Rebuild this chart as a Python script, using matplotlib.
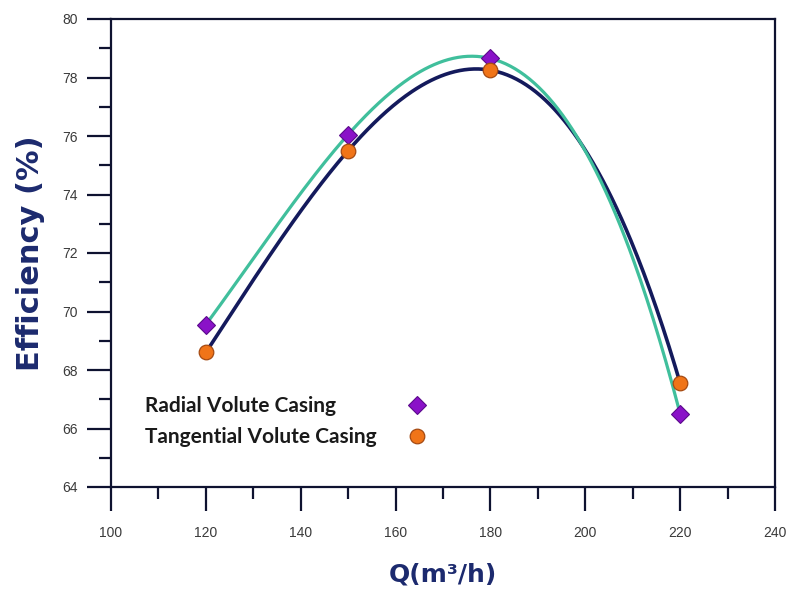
import numpy as np
import matplotlib
matplotlib.use("Agg")
import matplotlib.pyplot as plt
from matplotlib.ticker import MultipleLocator

# Data
flow = [120, 150, 180, 220]
radial_eff = [69.55, 76.05, 78.65, 66.5]
tangential_eff = [68.6, 75.5, 78.25, 67.55]
series_labels = ["Radial Volute Casing", "Tangential Volute Casing"]
x_ticks = [100, 120, 140, 160, 180, 200, 220, 240]
y_ticks = [64, 66, 68, 70, 72, 74, 76, 78, 80]

navy = "#141a5c"
teal = "#40bf9c"
label_col = "#1c2a6e"

fig = plt.figure(figsize=(7.89, 5.89), dpi=100)
ax = fig.add_axes([111/789, 1 - 487/589, (775-111)/789, (487-19)/589])

xs = np.linspace(flow[0], flow[-1], 300)
p_rad = np.polyfit(flow, radial_eff, 3)
p_tan = np.polyfit(flow, tangential_eff, 3)
ax.plot(xs, np.polyval(p_tan, xs), color=navy, lw=2.6, zorder=2, solid_capstyle='round')
ax.plot(xs, np.polyval(p_rad, xs), color=teal, lw=2.3, zorder=3, solid_capstyle='round')

ax.plot(flow, radial_eff, linestyle='none', marker='D', markersize=9,
        markerfacecolor="#8a12c8", markeredgecolor="#5b0a8c", markeredgewidth=0.8,
        label=series_labels[0], zorder=5)
ax.plot(flow, tangential_eff, linestyle='none', marker='o', markersize=10.5,
        markerfacecolor="#f07418", markeredgecolor="#a54a12", markeredgewidth=0.9,
        label=series_labels[1], zorder=5)

ax.set_xlim(100, 240)
ax.set_ylim(64, 80)
ax.set_xticks(x_ticks)
ax.set_yticks(y_ticks)
ax.xaxis.set_minor_locator(MultipleLocator(10))
ax.yaxis.set_minor_locator(MultipleLocator(1))

for s in ax.spines.values():
    s.set_linewidth(1.6)
    s.set_color("#0e1230")

ax.tick_params(which='major', direction='out', length=17, width=1.6, color="#0e1230",
               labelsize=10, labelcolor="#3a3a3a", pad=7)
ax.tick_params(which='minor', direction='out', length=8.5, width=1.6, color="#0e1230")
ax.tick_params(axis='x', which='major', pad=11)
for lab in ax.get_xticklabels() + ax.get_yticklabels():
    lab.set_fontfamily("Liberation Sans")

ax.set_xlabel("Q(m³/h)", fontsize=18, fontweight='bold', color=label_col,
              family="DejaVu Sans", labelpad=16)
ax.set_ylabel("Efficiency (%)", fontsize=22, fontweight='bold', color=label_col,
              family="DejaVu Sans", labelpad=12)

leg = ax.legend(loc='upper left', bbox_to_anchor=((145-111)/664, (487-396)/468),
                frameon=False, markerfirst=False, handlelength=1.0, handletextpad=1.0,
                labelspacing=0.55, borderpad=0.0, borderaxespad=0.0,
                prop={'family': 'Lato', 'weight': 'bold', 'size': 15})
for t in leg.get_texts():
    t.set_color("#1a1a1a")
# left-align the label texts while keeping markers in one column on the right
row_width_px = 282
for col in leg._legend_handle_box.get_children():
    for row in col.get_children():
        row.mode = 'expand'
        row.width = row_width_px

fig.savefig("out.png", dpi=100)
